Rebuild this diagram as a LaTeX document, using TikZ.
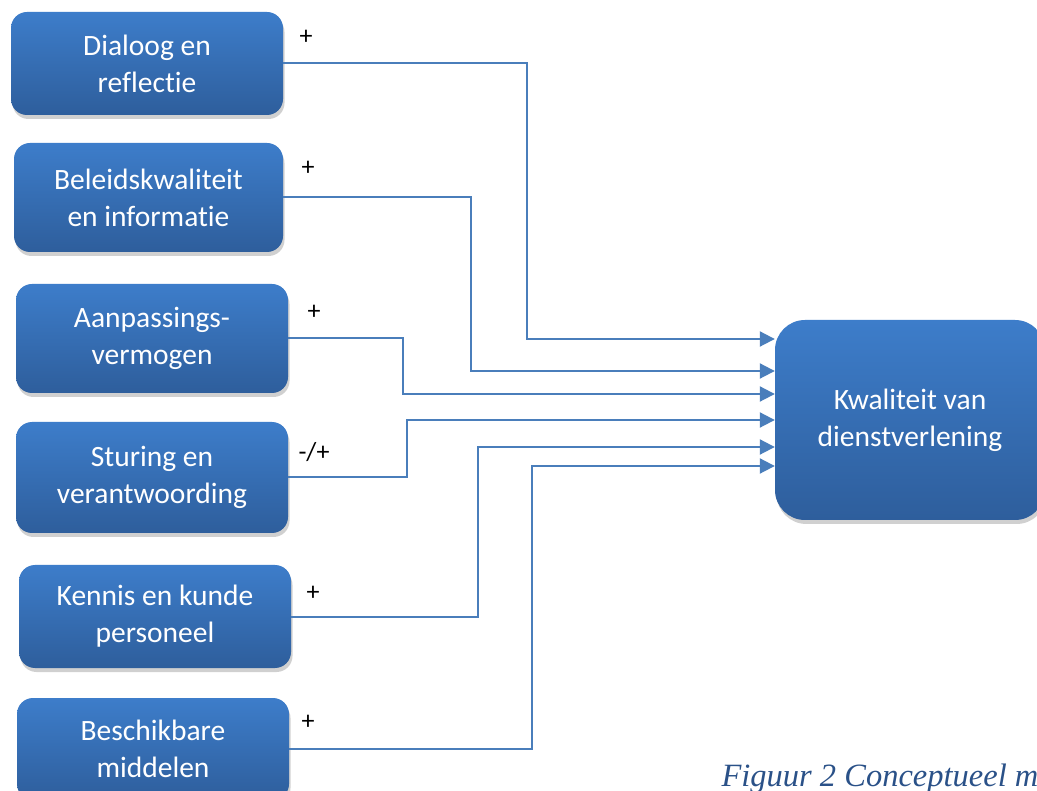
\documentclass[tikz,border=0pt]{standalone}
\usepackage{fontspec}
\setmainfont[Ligatures=NoCommon]{Carlito}
\newfontfamily\capfont{Liberation Serif}
\usetikzlibrary{shadows,arrows.meta,calc}
\definecolor{boxtop}{HTML}{3D7DCA}
\definecolor{boxbot}{HTML}{2E5E9C}
\definecolor{linecol}{HTML}{4A7EBB}
\definecolor{capcol}{HTML}{2A5188}
\tikzset{
  box/.style={rectangle, rounded corners=16pt, top color=boxtop, bottom color=boxbot,
    draw=none, text=white, align=center,
    font=\fontsize{29.5}{37}\selectfont,
    drop shadow={shadow xshift=1.5pt, shadow yshift=-4pt, opacity=0.3, fill=black!60}},
  bigbox/.style={box, rounded corners=30pt},
  conn/.style={draw=linecol, line width=2pt, -{Triangle[length=15pt,width=15pt]}},
  sign/.style={font=\fontsize{26}{30}\selectfont, text=black},
}
\begin{document}
\begin{tikzpicture}[x=1pt,y=-1pt]
\useasboundingbox (0,0) rectangle (1037,791);
\fill[white] (0,0) rectangle (1037,791);

\node[box, minimum width=272pt, minimum height=103pt] (b1) at (147,63.5) {Dialoog en\\reflectie};
\node[box, minimum width=269pt, minimum height=109pt] (b2) at (148.5,197.5) {Beleidskwaliteit\\en informatie};
\node[box, minimum width=272pt, minimum height=109pt] (b3) at (152,338.5) {Aanpassings-\\vermogen};
\node[box, minimum width=272pt, minimum height=111pt] (b4) at (152,477.5) {Sturing en\\verantwoording};
\node[box, minimum width=272pt, minimum height=103pt] (b5) at (155,616.5) {Kennis en kunde\\personeel};
\node[box, minimum width=272pt, minimum height=102pt] (b6) at (153,749) {Beschikbare\\middelen};
\node[bigbox, minimum width=270pt, minimum height=200pt] (kd) at (910,420) {Kwaliteit van\\dienstverlening};

\draw[conn] (b1.east) -- +(244,0) |- ([yshift=81pt]kd.west);
\draw[conn] (b2.east) -- +(188,0) |- ([yshift=49pt]kd.west);
\draw[conn] (b3.east) -- +(115,0) |- ([yshift=26pt]kd.west);
\draw[conn] (b4.east) -- +(119,0) |- ([yshift=0pt]kd.west);
\draw[conn] (b5.east) -- +(187,0) |- ([yshift=-27pt]kd.west);
\draw[conn] (b6.east) -- +(243,0) |- ([yshift=-46pt]kd.west);

\node[sign] (s1) at (306,37) {+};
\node[sign] (s2) at (308,168) {+};
\node[sign] (s3) at (314,312) {+};
\node[sign] (s4) at (314,452) {-/+};
\node[sign] (s5) at (313,593) {+};
\node[sign] (s6) at (308,722) {+};

\node[anchor=base west, text=capcol, font=\capfont\itshape\fontsize{32.5}{38}\selectfont] (cap) at (718,786) {Figuur 2 Conceptueel model};
\end{tikzpicture}
\end{document}
